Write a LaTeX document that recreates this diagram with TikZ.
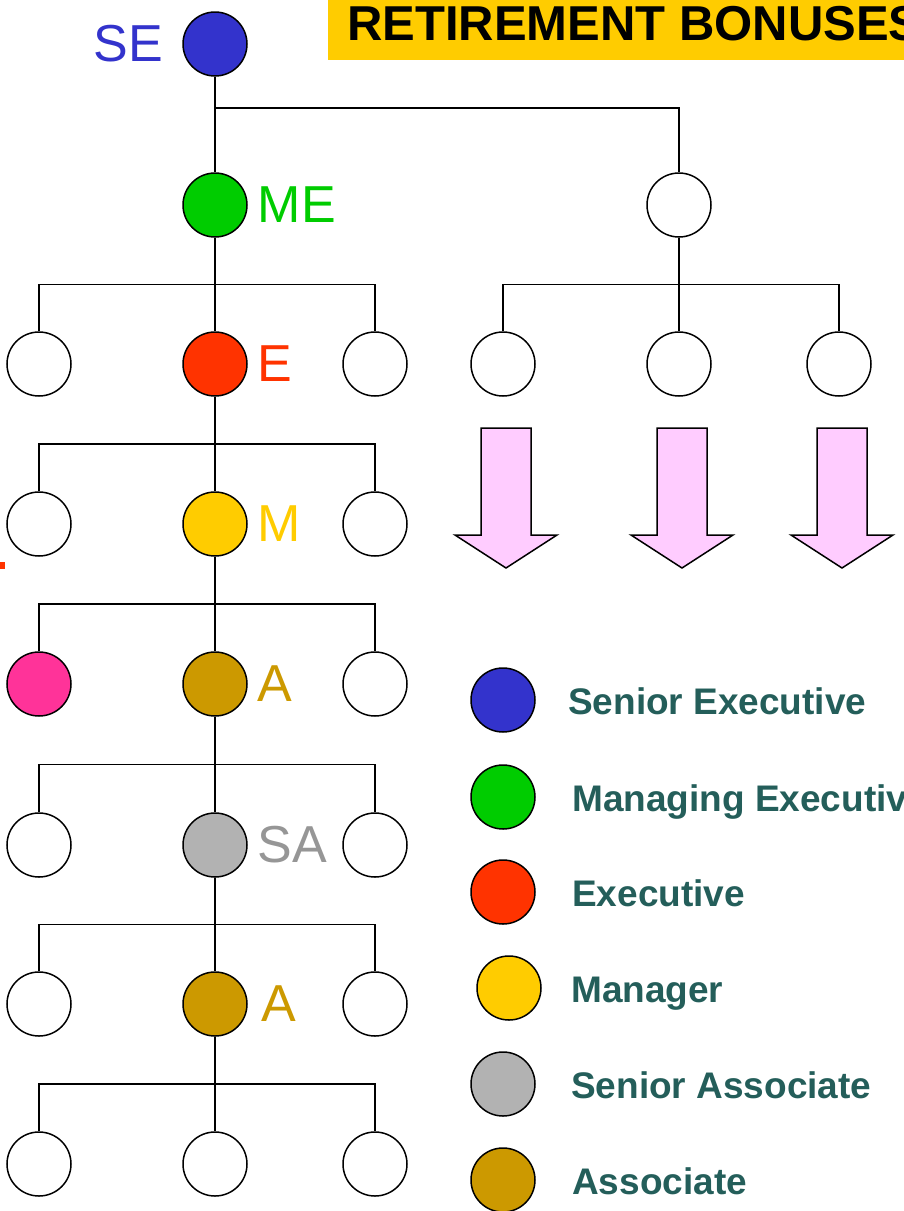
\documentclass[tikz,border=0pt]{standalone}
\usepackage{fontspec}
\setmainfont{Liberation Sans}
\usetikzlibrary{positioning,calc}

\definecolor{seblue}{RGB}{51,51,204}
\definecolor{megreen}{RGB}{0,204,0}
\definecolor{exred}{RGB}{255,51,0}
\definecolor{mgyellow}{RGB}{255,204,0}
\definecolor{asbrown}{RGB}{204,153,0}
\definecolor{sagray}{RGB}{178,178,178}
\definecolor{satext}{RGB}{150,150,150}
\definecolor{rosepink}{RGB}{255,51,153}
\definecolor{bonuspink}{RGB}{255,204,255}
\definecolor{keyteal}{RGB}{36,94,90}

\tikzset{
  member/.style={circle, draw=black, line width=1.5pt, minimum size=64pt, inner sep=0pt, fill=white},
  rank/.style={inner sep=0pt, font=\fontsize{52}{52}\selectfont},
  key/.style={anchor=base west, inner sep=0pt, text=keyteal, font=\fontsize{37}{37}\selectfont\bfseries},
  link/.style={line width=1.5pt},
  bonus/.style={fill=bonuspink, draw=black, line width=1.5pt, line join=miter}
}

\begin{document}
\begin{tikzpicture}[x=1pt, y=-1pt]
  \useasboundingbox (0,0) rectangle (904,1211);
  \clip (0,0) rectangle (904,1211);

  % title
  \fill[mgyellow] (328,0) rectangle (910,60);
  \node[anchor=base west, inner sep=0pt, font=\fontsize{49}{49}\selectfont\bfseries] (title) at (347,40) {RETIREMENT BONUSES};

  % main line
  \node[member, fill=seblue] (se) at (215,44) {};
  \node[member, fill=megreen] (me) at (215,205) {};
  \node[member, fill=exred] (ex) at (215,364) {};
  \node[member, fill=mgyellow] (mg) at (215,524) {};
  \node[member, fill=asbrown] (as1) at (215,684) {};
  \node[member, fill=sagray] (sa) at (215,845) {};
  \node[member, fill=asbrown] (as2) at (215,1004) {};
  \node[member] (bt) at (215,1164) {};

  % side members
  \foreach \c/\y/\lf in {ex/364/white, mg/524/white, as1/684/rosepink, sa/845/white, as2/1004/white, bt/1164/white} {
    \node[member, fill=\lf] (\c-l) at (39,\y) {};
    \node[member] (\c-r) at (375,\y) {};
  }

  % right branch
  \node[member] (rt) at (679,205) {};
  \node[member] (rt-l) at (503,364) {};
  \node[member] (rt-m) at (679,364) {};
  \node[member] (rt-r) at (839,364) {};

  % rank labels
  \node[rank, text=seblue, left=19pt of se] (se-lab) {SE};
  \node[rank, text=megreen, right=10pt of me] (me-lab) {ME};
  \node[rank, text=exred, right=10pt of ex] (ex-lab) {E};
  \node[rank, text=mgyellow, right=10pt of mg] (mg-lab) {M};
  \node[rank, text=asbrown, right=10pt of as1] (as1-lab) {A};
  \node[rank, text=satext, right=10pt of sa] (sa-lab) {SA};
  \node[rank, text=asbrown, right=14pt of as2] (as2-lab) {A};

  % connectors
  \coordinate (top-bar) at (215,108);
  \draw[link] (se) -- (me);
  \draw[link] (top-bar) -| (rt);
  \foreach \p/\c in {me/ex, ex/mg, mg/as1, as1/sa, sa/as2, as2/bt} {
    \draw[link] (\p) -- (\c);
    \draw[link] (\c-l) |- ($(\p)!0.5!(\c)$) -| (\c-r);
  }
  \draw[link] (rt) -- (rt-m);
  \draw[link] (rt-l) |- ($(rt)!0.5!(rt-m)$) -| (rt-r);

  % bonus arrows
  \foreach \x in {506,682,842}
    \draw[bonus] (\x-25,428) -- (\x+25,428) -- (\x+25,535) -- (\x+51,535)
      -- (\x,568) -- (\x-51,535) -- (\x-25,535) -- cycle;

  % stray mark at the left edge
  \fill[exred] (0,562) rectangle (5,569);

  % legend
  \node[member, fill=seblue] (k1) at (503,700) {};
  \node[member, fill=megreen] (k2) at (503,797) {};
  \node[member, fill=exred] (k3) at (503,892) {};
  \node[member, fill=mgyellow] (k4) at (509,988) {};
  \node[member, fill=sagray] (k5) at (503,1084) {};
  \node[member, fill=asbrown] (k6) at (503,1180) {};
  \node[key] (k1-t) at (568,714) {Senior Executive};
  \node[key] (k2-t) at (572,811) {Managing Executive};
  \node[key] (k3-t) at (572,906) {Executive};
  \node[key] (k4-t) at (571,1002) {Manager};
  \node[key] (k5-t) at (571,1098) {Senior Associate};
  \node[key] (k6-t) at (572,1194) {Associate};
\end{tikzpicture}
\end{document}
